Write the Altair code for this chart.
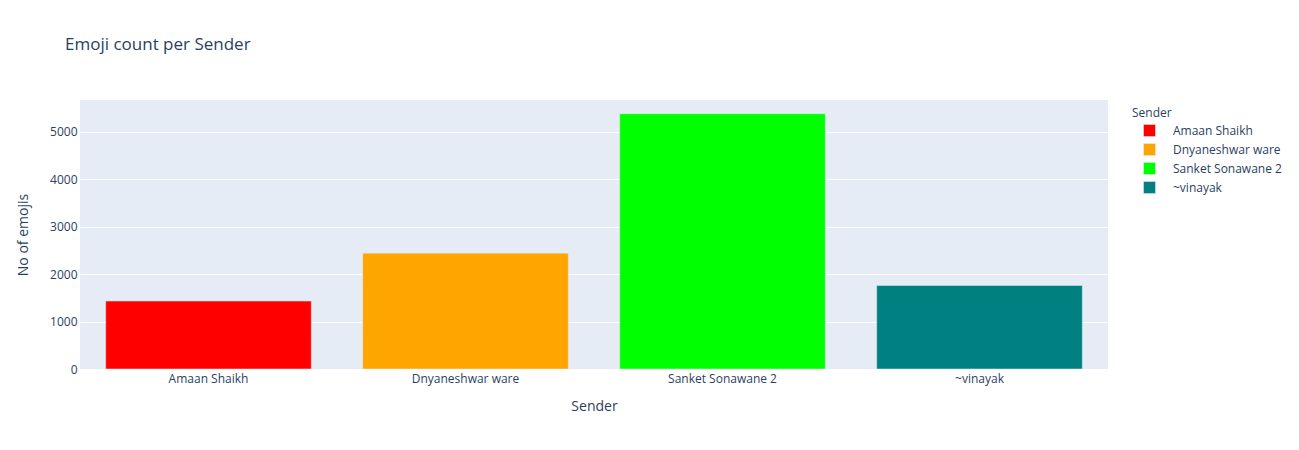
import altair as alt
import pandas as pd

senders = ["Amaan Shaikh", "Dnyaneshwar ware", "Sanket Sonawane 2", "~vinayak"]
counts = [1431, 2440, 5378, 1759]
colors = ["#FF0000", "#FFA500", "#00FF00", "#008080"]

df = pd.DataFrame({"Sender": senders, "Count": counts})

FONT = "Open Sans"
TXT = "#2a3f5f"

chart = alt.Chart(df).mark_bar(stroke="#E5ECF6", strokeWidth=0.5).encode(
    x=alt.X("Sender:N", sort=senders,
            scale=alt.Scale(paddingInner=0.2, paddingOuter=0.1),
            axis=alt.Axis(title="Sender", labelAngle=0, ticks=False, domain=False,
                          labelPadding=4, titlePadding=15, grid=False)),
    y=alt.Y("Count:Q", title="No of emojis",
            scale=alt.Scale(domain=[0, 5666], nice=False),
            axis=alt.Axis(values=[0, 1000, 2000, 3000, 4000, 5000], format="d", ticks=False,
                          domain=False, labelPadding=3, titlePadding=19,
                          gridColor="white", gridWidth=1)),
    color=alt.Color("Sender:N", sort=senders,
                    scale=alt.Scale(domain=senders, range=colors),
                    legend=alt.Legend(title="Sender", orient="none", legendX=1052, legendY=8,
                                      symbolType="square", symbolSize=144,
                                      symbolStrokeColor="#E5ECF6", symbolStrokeWidth=0.5,
                                      symbolOffset=11, labelOffset=17, rowPadding=4,
                                      titlePadding=4)),
).properties(
    width=1028,
    height=269,
    title=alt.TitleParams("Emoji count per Sender", anchor="start", frame="group", dx=-15, offset=46,
                          fontSize=17, font=FONT, color=TXT, fontWeight="normal"),
    autosize=alt.AutoSizeParams(type="none"),
    padding={"left": 80, "top": 100, "right": 191, "bottom": 81},
).configure_view(
    fill="#E5ECF6", stroke=None
).configure_axis(
    labelFont=FONT, titleFont=FONT, labelColor=TXT, titleColor=TXT,
    labelFontSize=12, titleFontSize=14, titleFontWeight="normal"
).configure_legend(
    labelFont=FONT, titleFont=FONT, labelColor=TXT, titleColor=TXT,
    labelFontSize=12, titleFontSize=12, titleFontWeight="normal"
)

chart.save("out.html", embed_options={"renderer": "svg", "actions": False})
